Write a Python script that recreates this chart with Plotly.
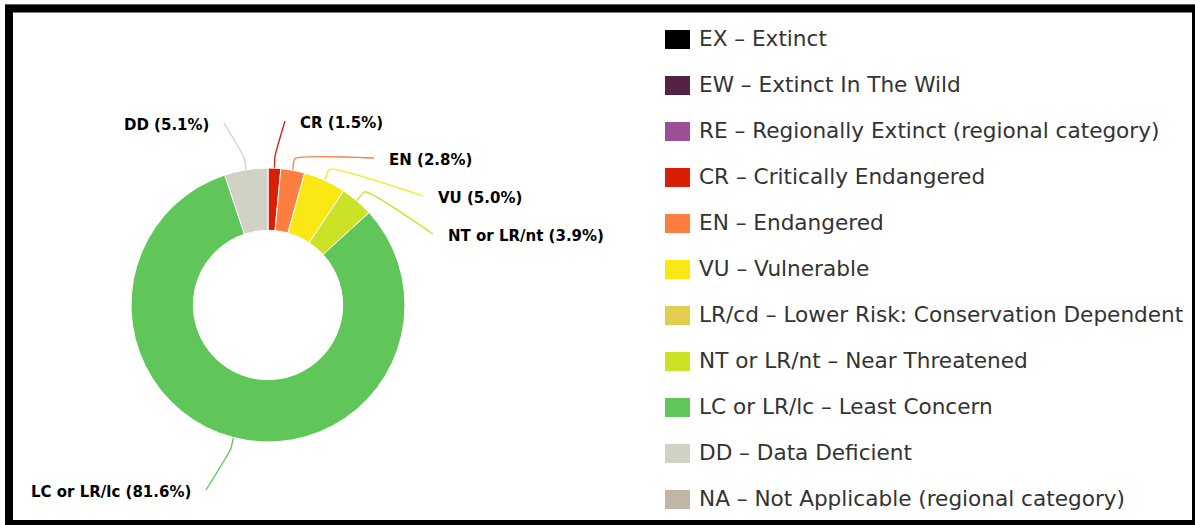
import math
import plotly.graph_objects as go

# IUCN Red List category breakdown (percent of assessed species)
codes = ["EX", "EW", "RE", "CR", "EN", "VU", "LR/cd", "NT or LR/nt", "LC or LR/lc", "DD", "NA"]
names = [
    "EX – Extinct",
    "EW – Extinct In The Wild",
    "RE – Regionally Extinct (regional category)",
    "CR – Critically Endangered",
    "EN – Endangered",
    "VU – Vulnerable",
    "LR/cd – Lower Risk: Conservation Dependent",
    "NT or LR/nt – Near Threatened",
    "LC or LR/lc – Least Concern",
    "DD – Data Deficient",
    "NA – Not Applicable (regional category)",
]
shares = [0, 0, 0, 1.5, 2.8, 5.0, 0, 3.9, 81.6, 5.1, 0]
colors = ["#000000", "#542344", "#9B4F96", "#D81E05", "#FC7F3F", "#F9E814",
          "#E2CD4F", "#CCE226", "#60C659", "#D1D1C6", "#C1B5A5"]

# ---- layout constants (pixel space) ----
W, H = 1195, 525
CX, CY, R = 268, 305, 137          # donut centre and outer radius
HOLE = 0.545
ELBOW = 12                          # radial length of connector stub
GAP = 13                            # space between connector end and label

# where each slice label sits: (x, y, side of the text the anchor is on)
label_pos = {
    "DD": (211, 125, "right"),
    "CR": (298, 123, "left"),
    "EN": (387, 160, "left"),
    "VU": (436, 198, "left"),
    "NT or LR/nt": (446, 236, "left"),
    "LC or LR/lc": (193, 492, "right"),
}

LEG_X0, LEG_SW_W, LEG_SW_H = 665, 25, 19
LEG_TEXT_X = 699
LEG_Y0, LEG_STEP = 39, 46.0
LEG_TEXT_DY = 2

fig = go.Figure()

# ---- donut ----
pie_idx = [i for i, v in enumerate(shares) if v > 0]
fig.add_trace(go.Pie(
    labels=[codes[i] for i in pie_idx],
    values=[shares[i] for i in pie_idx],
    marker=dict(colors=[colors[i] for i in pie_idx], line=dict(color="white", width=1)),
    hole=HOLE,
    sort=False,
    direction="clockwise",
    rotation=0,
    textinfo="none",
    textposition="none",
    showlegend=False,
    hoverinfo="label+percent",
    domain=dict(x=[(CX - R) / W, (CX + R) / W],
                y=[(H - CY - R) / H, (H - CY + R) / H]),
))

# ---- connectors and slice labels ----
total = sum(shares)
cum = 0.0
annotations = []
for i in pie_idx:
    v = shares[i]
    theta = math.radians(360.0 * (cum + v / 2.0) / total)
    cum += v
    code = codes[i]
    lx, ly, side = label_pos[code]
    p0 = (CX + R * math.sin(theta), CY - R * math.cos(theta))
    p1 = (CX + (R + ELBOW) * math.sin(theta), CY - (R + ELBOW) * math.cos(theta))
    p2 = (lx - GAP if side == "left" else lx + GAP, ly - 2)
    fig.add_trace(go.Scatter(
        x=[p0[0], p1[0], p2[0]], y=[p0[1], p1[1], p2[1]],
        mode="lines", line=dict(color=colors[i], width=1.3, shape="spline", smoothing=0.5),
        hoverinfo="skip", showlegend=False, xaxis="x", yaxis="y",
    ))
    annotations.append(dict(
        x=lx, y=ly, xref="x", yref="y",
        text=f"<b>{code} ({v:.1f}%)</b>",
        showarrow=False,
        xanchor=side, yanchor="middle",
        font=dict(family="DejaVu Sans", size=15, color="#000000"),
    ))

# ---- legend: swatches + labels ----
rows = [LEG_Y0 + LEG_STEP * k for k in range(len(codes))]
fig.add_trace(go.Bar(
    orientation="h",
    y=rows,
    x=[LEG_SW_W] * len(codes),
    base=[LEG_X0] * len(codes),
    width=[LEG_SW_H] * len(codes),
    marker=dict(color=colors, line=dict(width=0)),
    hoverinfo="skip", showlegend=False, xaxis="x", yaxis="y",
))
fig.add_trace(go.Scatter(
    x=[LEG_TEXT_X] * len(codes),
    y=[r + LEG_TEXT_DY for r in rows],
    mode="text",
    text=names,
    textposition="middle right",
    textfont=dict(family="DejaVu Sans", size=21.6, color="#333333"),
    hoverinfo="skip", showlegend=False, xaxis="x", yaxis="y",
))

# ---- frame ----
shapes = [
    dict(type="line", xref="x", yref="y", x0=5, x1=W, y0=4.5, y1=4.5,
         line=dict(color="#BDBDBD", width=1)),
    dict(type="rect", xref="x", yref="y", x0=9, y0=8.5, x1=W + 1, y1=H - 1,
         line=dict(color="#000000", width=8), fillcolor="rgba(0,0,0,0)"),
]

fig.update_layout(
    width=W, height=H,
    margin=dict(l=0, r=0, t=0, b=0, pad=0),
    paper_bgcolor="white", plot_bgcolor="rgba(0,0,0,0)",
    xaxis=dict(range=[0, W], visible=False, fixedrange=True, domain=[0, 1]),
    yaxis=dict(range=[H, 0], visible=False, fixedrange=True, domain=[0, 1]),
    annotations=annotations,
    shapes=shapes,
    showlegend=False,
    bargap=0,
)

fig.write_html("out.html")
